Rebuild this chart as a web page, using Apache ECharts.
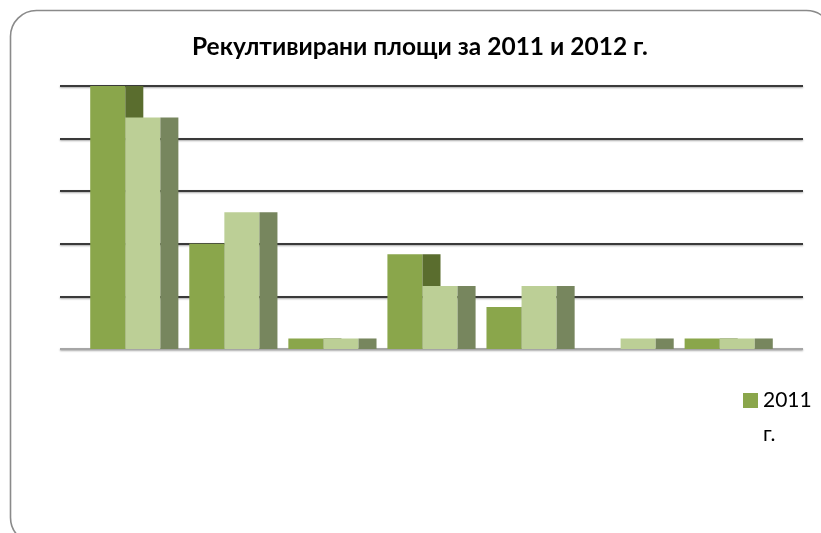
<!DOCTYPE html>
<html>
<head>
<meta charset="utf-8">
<script src="https://cdn.jsdelivr.net/npm/echarts@6/dist/echarts.min.js"></script>
<style>html,body{margin:0;padding:0;background:#fff;}#chart{width:821px;height:533px;}</style>
</head>
<body>
<div id="chart"></div>
<script>
const titleText = 'Рекултивирани площи за 2011 и 2012 г.';
const categories = ['1', '2', '3', '4', '5', '6', '7'];
const seriesNames = ['2011 г.', '2012 г.'];
const values2011 = [5.0, 2.0, 0.2, 1.8, 0.8, 0, 0.2];
const values2012 = [4.4, 2.6, 0.2, 1.2, 1.2, 0.2, 0.2];

const FONT = 'Lato';
const colors = {
  front2011: '#8aa64b', side2011: '#5a6d2e',
  front2012: '#bccf96', side2012: '#77865e'
};

function makeRender(which, front, side) {
  return function (params, api) {
    const idx = api.value(0);
    const v = api.value(1);
    if (!(v > 0)) return null;
    const unit = api.size([1, 0])[0];
    const w = unit * 0.354, d = unit * 0.182;
    const base = api.coord([idx, 0]);
    const top = api.coord([idx, v]);
    const x0 = base[0] - (2 * w + d) / 2 + (which === 1 ? w : 0);
    const h = base[1] - top[1];
    return {
      type: 'group',
      children: [
        { type: 'rect', shape: { x: x0, y: top[1], width: w, height: h }, style: { fill: front } },
        { type: 'rect', shape: { x: x0 + w, y: top[1], width: d, height: h }, style: { fill: side } }
      ]
    };
  };
}

const chart = echarts.init(document.getElementById('chart'), null, { renderer: 'canvas' });
chart.setOption({
  backgroundColor: '#fff',
  animation: false,
  graphic: [{
    type: 'rect', left: 8, top: 8, z: -10,
    shape: { width: 822, height: 533, r: 26 },
    style: { fill: 'none', stroke: '#8a8a8a', lineWidth: 1.6 }
  }],
  title: {
    text: titleText, left: 192, top: 35, padding: 0,
    textStyle: { fontFamily: FONT, fontSize: 24.5, fontWeight: 'bold', color: '#000' }
  },
  legend: {
    data: [seriesNames[0]],
    left: 743, top: 349.5, padding: 0,
    itemWidth: 15, itemHeight: 15, icon: 'rect', itemGap: 6,
    formatter: n => '\n' + n.replace(' ', '\n'),
    textStyle: { fontFamily: FONT, fontSize: 21, color: '#000', lineHeight: 34 }
  },
  grid: { left: 60, right: 18, top: 86, bottom: 184 },
  xAxis: {
    type: 'value', min: -0.75, max: 6.75,
    axisLine: { show: false }, axisTick: { show: false }, axisLabel: { show: false },
    splitLine: { show: false }
  },
  yAxis: {
    type: 'value', min: 0, max: 5, interval: 1,
    axisLine: { show: false }, axisTick: { show: false }, axisLabel: { show: false },
    splitLine: {
      show: true,
      lineStyle: {
        color: ['#a6a6a6', '#3a3a3a', '#3a3a3a', '#3a3a3a', '#3a3a3a', '#3a3a3a'],
        width: 2,
        shadowColor: 'rgba(0,0,0,0.35)', shadowBlur: 2, shadowOffsetY: 1
      }
    }
  },
  series: [
    {
      name: seriesNames[0], type: 'custom', z: 2,
      color: colors.front2011,
      renderItem: makeRender(0, colors.front2011, colors.side2011),
      encode: { x: 0, y: 1 },
      data: categories.map((c, i) => [i, values2011[i]])
    },
    {
      name: seriesNames[1], type: 'custom', z: 3,
      color: colors.front2012,
      renderItem: makeRender(1, colors.front2012, colors.side2012),
      encode: { x: 0, y: 1 },
      data: categories.map((c, i) => [i, values2012[i]])
    }
  ]
});
</script>
</body>
</html>
